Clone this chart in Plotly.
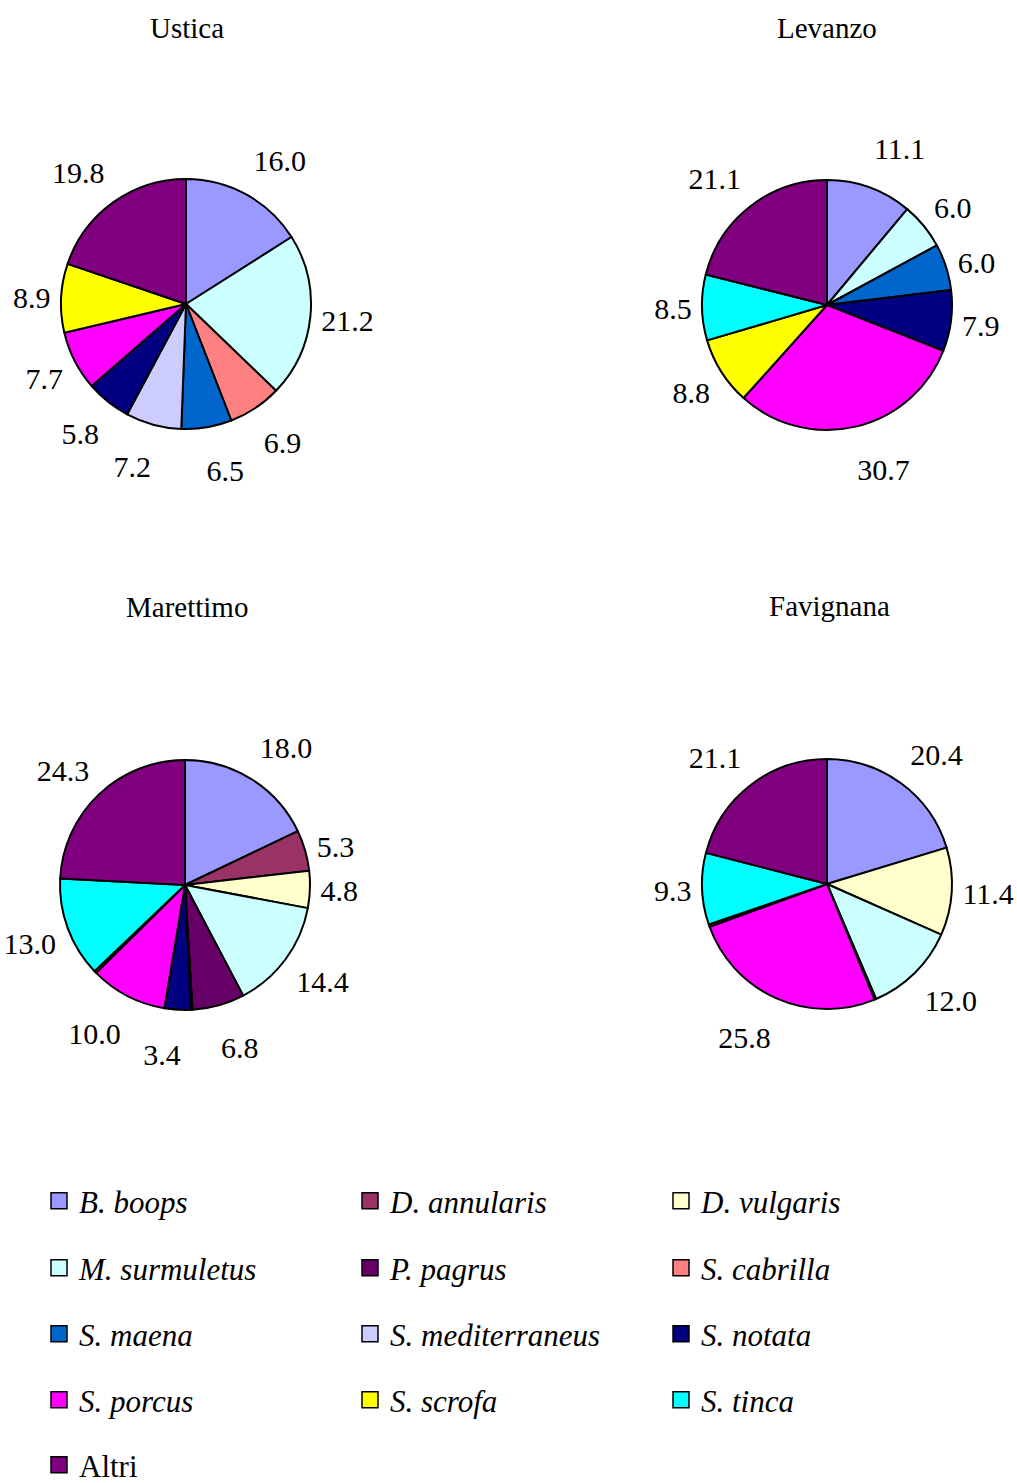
import math
import plotly.graph_objects as go

W, H = 1017, 1483
FONT = "Liberation Serif"

# Species shown in every chart, with their fill colours
species = ["B. boops", "D. annularis", "D. vulgaris", "M. surmuletus", "P. pagrus",
           "S. cabrilla", "S. maena", "S. mediterraneus", "S. notata", "S. porcus",
           "S. scrofa", "S. tinca", "Altri"]
colors = ["#9999FF", "#993366", "#FFFFCC", "#CCFFFF", "#660066", "#FF8080", "#0066CC",
          "#CCCCFF", "#000080", "#FF00FF", "#FFFF00", "#00FFFF", "#800080"]

# Percentage composition per island (None = species absent)
ustica = [16.0, None, None, 21.2, None, 6.9, 6.5, 7.2, 5.8, 7.7, 8.9, None, 19.8]
levanzo = [11.1, None, None, 6.0, None, None, 6.0, None, 7.9, 30.7, 8.8, 8.5, 21.1]
marettimo = [18.0, 5.3, 4.8, 14.4, 6.8, None, 0.2, None, 3.4, 10.0, 0.3, 13.0, 24.3]
favignana = [20.4, None, 11.4, 12.0, 0.2, None, None, None, None, 25.8, 0.3, 9.3, 21.1]

islands = ["Ustica", "Levanzo", "Marettimo", "Favignana"]
island_values = [ustica, levanzo, marettimo, favignana]

# Pie centre (px from top-left) and radius
centres = [(186, 304), (827, 305), (185, 885), (827, 884)]
radius = 125
title_pos = [(187, 28), (827, 28), (187, 607), (829, 606)]


def domain(cx, cy, r):
    return dict(x=[(cx - r) / W, (cx + r) / W], y=[1 - (cy + r) / H, 1 - (cy - r) / H])


def label_ring(values, k, cx, cy):
    """Ring used to place label k: wider above/below the pie, pulled in sideways."""
    total = sum(values)
    mid = (sum(values[:k]) + values[k] / 2) / total
    s, c = math.sin(2 * math.pi * mid), math.cos(2 * math.pi * mid)
    gap = 2 + 26 * abs(c)
    shift_x = -math.copysign(13 * min(1.0, 1.5 * abs(c)), s)
    shift_y = 10 * s * s * min(1.0, 3 * abs(c)) if c < 0 else 0.0
    return domain(cx + shift_x, cy + shift_y, radius + gap)


fig = go.Figure()

for name, vals, (cx, cy) in zip(islands, island_values, centres):
    labels = [s for s, v in zip(species, vals) if v is not None]
    values = [v for v in vals if v is not None]
    cols = [c for c, v in zip(colors, vals) if v is not None]
    text = [f"{v:.1f}" for v in values]
    # coloured slices
    fig.add_trace(go.Pie(
        labels=labels, values=values, textinfo="none",
        sort=False, direction="clockwise", rotation=0,
        marker=dict(colors=cols, line=dict(color="black", width=2)),
        domain=domain(cx, cy, radius),
        showlegend=False, name=name, hoverinfo="label+value",
    ))
    # value labels, one trace per label so each sits at its own slice
    for k, v in enumerate(values):
        if v < 1:
            continue
        fig.add_trace(go.Pie(
            labels=labels, values=values, text=text, textinfo="text",
            textposition=["outside" if j == k else "none" for j in range(len(values))],
            sort=False, direction="clockwise", rotation=0,
            marker=dict(colors=["rgba(0,0,0,0)"] * len(values),
                        line=dict(color="rgba(0,0,0,0)", width=0)),
            textfont=dict(family=FONT, size=30, color="black"),
            domain=label_ring(values, k, cx, cy),
            showlegend=False, name=name, hoverinfo="skip",
        ))

for name, (tx, ty) in zip(islands, title_pos):
    fig.add_annotation(text=name, x=tx / W, y=1 - ty / H, xref="paper", yref="paper",
                       showarrow=False, xanchor="center", yanchor="middle",
                       font=dict(family=FONT, size=29, color="black"))

# Legend: three columns, five rows
row_y = [1201, 1268, 1334, 1400, 1465]
for i, (s, c) in enumerate(zip(species, colors)):
    row = i // 3
    key = "legend" if row == 0 else f"legend{row + 1}"
    fig.add_trace(go.Scatter(
        x=[None], y=[None], mode="markers", legend=key,
        name=s if s == "Altri" else f"<i>{s}</i>",
        marker=dict(symbol="square", size=18, color=c, line=dict(color="black", width=1.5)),
    ))

legends = {}
for r, yc in enumerate(row_y):
    key = "legend" if r == 0 else f"legend{r + 1}"
    legends[key] = dict(
        orientation="h", x=39 / W, xanchor="left", y=1 - yc / H, yanchor="middle",
        entrywidth=266, entrywidthmode="pixels", bgcolor="rgba(0,0,0,0)",
        font=dict(family=FONT, size=31, color="black"), itemclick=False,
    )

fig.update_layout(
    width=W, height=H, margin=dict(l=0, r=0, t=0, b=0, autoexpand=False),
    paper_bgcolor="white", plot_bgcolor="white",
    xaxis=dict(visible=False), yaxis=dict(visible=False),
    **legends,
)

fig.write_html("out.html")
